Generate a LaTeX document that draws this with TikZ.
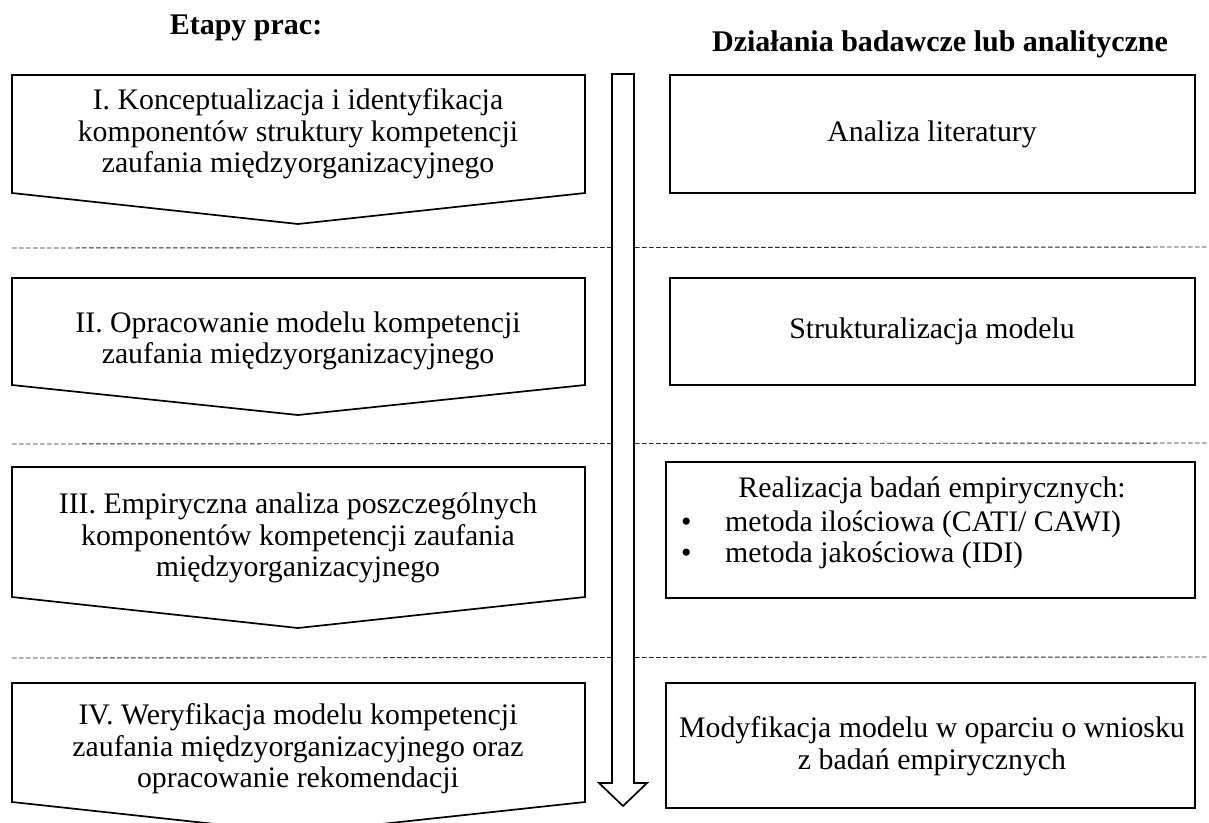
\documentclass[tikz,border=0pt]{standalone}
\usepackage{fontspec}
\setmainfont{Liberation Serif}
\begin{document}
\begin{tikzpicture}[x=1pt, y=-1pt, line join=miter,
  stagebox/.style={draw=black, line width=1.7pt, fill=white},
  actbox/.style={draw=black, line width=1.7pt, fill=white},
  txt/.style={align=center, font=\fontsize{29.8}{31.5}\selectfont, inner sep=0pt},
  lefttxt/.style={anchor=base west, font=\fontsize{29.8}{31.5}\selectfont, inner sep=0pt},
  heading/.style={font=\fontsize{30}{34}\selectfont\bfseries, inner sep=0pt},
  sepline/.style={draw=black!85, line width=0.9pt, dash pattern=on 4.5pt off 2.5pt},
  flowarrow/.style={draw=black, line width=1.7pt, fill=white}]
\useasboundingbox (0,0) rectangle (1209,822);

% column headings
\node[heading] (hleft) at (246,28) {Etapy prac:};
\node[heading] (hright) at (940,44) {Działania badawcze lub analityczne};

% dashed separators between the stages
\draw[sepline] (12,248) -- (1207,247);
\draw[sepline] (12,444) -- (1207,443);
\draw[sepline] (12,658) -- (1207,657);

% stages (pentagon arrows pointing down)
\draw[stagebox] (12,75) -- (585,75) -- (585,193) -- (298,224) -- (12,193) -- cycle;
\draw[stagebox] (12,278) -- (585,278) -- (585,385) -- (298,415) -- (12,385) -- cycle;
\draw[stagebox] (12,467) -- (585,467) -- (585,597) -- (298,628) -- (12,597) -- cycle;
\draw[stagebox] (12,683) -- (585,683) -- (585,802) -- (298,833) -- (12,802) -- cycle;

\node[txt] (s1) at (298,134) {I. Konceptualizacja i identyfikacja\\komponentów struktury kompetencji\\zaufania międzyorganizacyjnego};
\node[txt] (s2) at (298,341) {II. Opracowanie modelu kompetencji\\zaufania międzyorganizacyjnego};
\node[txt] (s3) at (298,538) {III. Empiryczna analiza poszczególnych\\komponentów kompetencji zaufania\\międzyorganizacyjnego};
\node[txt] (s4) at (298,749) {IV. Weryfikacja modelu kompetencji\\zaufania międzyorganizacyjnego oraz\\opracowanie rekomendacji};

% long downward arrow between the columns
\draw[flowarrow] (612,74) -- (634,74) -- (634,783) -- (647,783) -- (623,806)
  -- (599,783) -- (612,783) -- cycle;

% research activities
\draw[actbox] (670,75) rectangle (1195,193);
\draw[actbox] (670,278) rectangle (1195,385);
\draw[actbox] (666,462) rectangle (1195,598);
\draw[actbox] (666,683) rectangle (1195,808);

\node[txt] (a1) at (932,134) {Analiza literatury};
\node[txt] (a2) at (932,331) {Strukturalizacja modelu};
\node[txt] (a3) at (932,490) {Realizacja badań empirycznych:};
\node[lefttxt] (b1) at (681,531) {•};
\node[lefttxt] (a3a) at (725,531) {metoda ilościowa (CATI/ CAWI)};
\node[lefttxt] (b2) at (681,562) {•};
\node[lefttxt] (a3b) at (725,562) {metoda jakościowa (IDI)};
\node[txt] (a4) at (932,746) {Modyfikacja modelu w oparciu o wniosku\\z badań empirycznych};
\end{tikzpicture}
\end{document}
